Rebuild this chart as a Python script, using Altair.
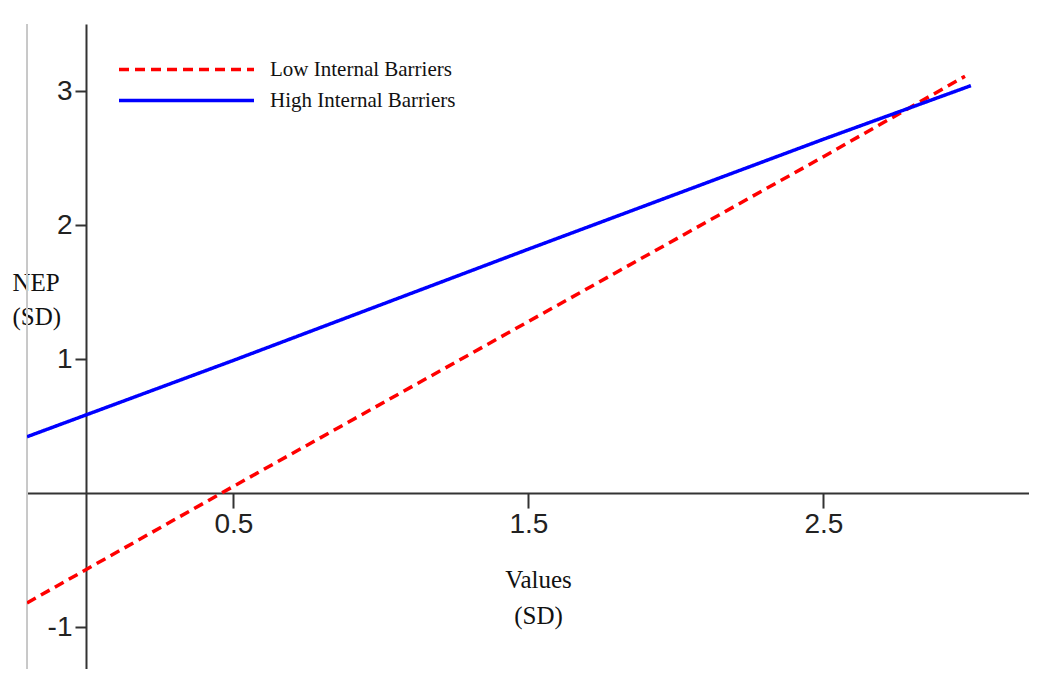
import altair as alt
import pandas as pd

# Data
series_names = ["Low Internal Barriers", "High Internal Barriers"]
low_x = [-0.2, 0.5, 1.5, 2.5, 2.98]
low_y = [-0.82, 0.05, 1.28, 2.51, 3.11]
high_x = [-0.2, 0.5, 1.5, 2.5, 3.0]
high_y = [0.42, 0.99, 1.82, 2.64, 3.04]
x_ticks = [0.5, 1.5, 2.5]
y_ticks = [-1, 1, 2, 3]

rows = []
for xv, yv in zip(low_x, low_y):
    rows.append({"x": xv, "y": yv, "series": series_names[0]})
for xv, yv in zip(high_x, high_y):
    rows.append({"x": xv, "y": yv, "series": series_names[1]})
df = pd.DataFrame(rows)

W, H = 1002, 645
x_dom = [-0.2, 3.197]
y_dom = [-1.313, 3.5]
# axis placement at zero
x_zero_px = (0 - x_dom[0]) / (x_dom[1] - x_dom[0]) * W
y_zero_px = (y_dom[1] - 0) / (y_dom[1] - y_dom[0]) * H

axis_color = "#333333"
tick_font = "Liberation Sans"
serif = "Liberation Serif"

legend_cfg = dict(
    title=None,
    orient="none",
    legendX=144,
    legendY=30,
    symbolType="M-5,0H5",
    symbolSize=729,
    symbolStrokeWidth=3.5,
    labelFont=serif,
    labelFontSize=21,
    labelColor="#111111",
    labelOffset=68,
    labelLimit=0,
    rowPadding=5,
)

lines = alt.Chart(df).mark_line(strokeWidth=3.5, clip=True).encode(
    x=alt.X(
        "x:Q",
        scale=alt.Scale(domain=x_dom, nice=False, zero=False),
        axis=alt.Axis(
            values=x_ticks,
            format=".1f",
            grid=False,
            offset=-(H - y_zero_px),
            domainColor=axis_color,
            domainWidth=2,
            tickColor=axis_color,
            tickWidth=2,
            tickSize=15,
            labelFont=tick_font,
            labelFontSize=28,
            labelColor="#222222",
            labelPadding=2,
            title=["Values", "(SD)"],
            titleFont=serif,
            titleFontSize=25,
            titleFontWeight="normal",
            titleColor="#111111",
            titleX=511,
            titleY=74,
            titleAlign="center",
            titleBaseline="top",
            titleLineHeight=36,
        ),
    ),
    y=alt.Y(
        "y:Q",
        scale=alt.Scale(domain=y_dom, nice=False, zero=False),
        axis=alt.Axis(
            values=y_ticks,
            format="d",
            labelExpr="replace(datum.label, '\u2212', '-')",
            grid=False,
            offset=-x_zero_px,
            domainColor=axis_color,
            domainWidth=2,
            tickColor=axis_color,
            tickWidth=2,
            tickSize=11,
            labelFont=tick_font,
            labelFontSize=28,
            labelColor="#222222",
            labelPadding=3,
            title=["NEP", "(SD)"],
            titleFont=serif,
            titleFontSize=25,
            titleFontWeight="normal",
            titleColor="#111111",
            titleAngle=0,
            titleX=-74,
            titleY=246,
            titleAlign="left",
            titleBaseline="top",
            titleLineHeight=34,
        ),
    ),
    color=alt.Color(
        "series:N",
        scale=alt.Scale(domain=series_names, range=["#ff0000", "#0000ff"]),
        legend=alt.Legend(**legend_cfg),
    ),
    strokeDash=alt.StrokeDash(
        "series:N",
        scale=alt.Scale(domain=series_names, range=[[10, 6], [1, 0]]),
        legend=alt.Legend(**legend_cfg),
    ),
)

border = alt.Chart(df).mark_rule(color="#c8c8c8", strokeWidth=1).encode(
    x=alt.value(0), y=alt.value(0), y2=alt.value(H)
)

chart = alt.layer(border, lines).properties(
    width=W,
    height=H,
    padding={"left": 19, "top": 16, "right": 0, "bottom": 0},
    autosize=alt.AutoSizeParams(type="none"),
    background="white",
).configure_view(strokeWidth=0)

chart.save("out.html", embed_options={"renderer": "svg", "actions": False})
